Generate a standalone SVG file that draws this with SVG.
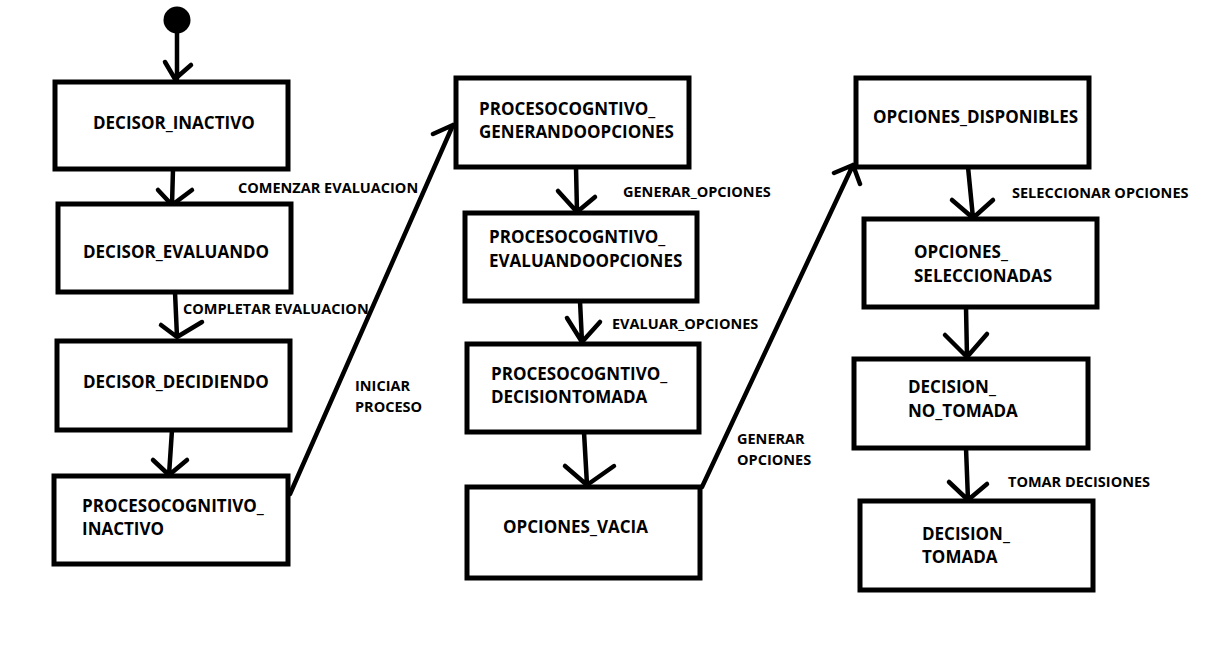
<svg xmlns="http://www.w3.org/2000/svg" width="1230" height="657" viewBox="0 0 1230 657">
<style>
.box{fill:#fff;stroke:#000;stroke-width:5}
.t{font-family:"Open Sans","Liberation Sans",sans-serif;font-weight:700;font-size:17px;fill:#000}
.l{font-family:"Open Sans","Liberation Sans",sans-serif;font-weight:700;font-size:14.5px;fill:#000}
.c{fill:none;stroke:#000;stroke-width:4.5;stroke-linecap:round;stroke-linejoin:round}
</style>
<rect width="1230" height="657" fill="#fff"/>
<circle id="start" cx="177" cy="20" r="13.5" fill="#000"/>
<g id="connectors">
<path class="c" d="M177,31 L177,79 M165,62 L175,79 L191,65"/>
<path class="c" d="M173,169 L172,205 M158,190 L172,205 L192,190"/>
<path class="c" d="M175,292 L177,337 M161,325 L177,337 L202,322"/>
<path class="c" d="M172,430 L169,475 M153,460 L169,475 L187,460"/>
<path class="c" d="M290,494 L453,125 M433,134 L453,125"/>
<path class="c" d="M576,167 L577,212 M558,191 L577,212 L595,197"/>
<path class="c" d="M580,301 L582,342 M567,318 L582,342 L600,322"/>
<path class="c" d="M584,432 L587,485 M565,466 L587,485 L614,466"/>
<path class="c" d="M702,487 L853,165 M834,173 L853,165 L860,184"/>
<path class="c" d="M968,167 L973,218 M952,200 L973,218 L993,200"/>
<path class="c" d="M966,307 L967,357 M945,335 L967,357 L987,334"/>
<path class="c" d="M966,448 L968,500 M949,482 L968,500 L987,484"/>
</g>
<g id="labels">
<text class="l" x="238" y="193">COMENZAR EVALUACION</text>
<text class="l" x="183" y="314">COMPLETAR EVALUACION</text>
<text class="l" x="355" y="391">INICIAR</text>
<text class="l" x="355" y="412">PROCESO</text>
<text class="l" x="623" y="197">GENERAR_OPCIONES</text>
<text class="l" x="612" y="329">EVALUAR_OPCIONES</text>
<text class="l" x="737" y="444">GENERAR</text>
<text class="l" x="737" y="465">OPCIONES</text>
<text class="l" x="1012" y="198">SELECCIONAR OPCIONES</text>
<text class="l" x="1008" y="487">TOMAR DECISIONES</text>
</g>
<g id="decisor_inactivo"><rect class="box" x="55" y="82" width="233" height="87"/><text class="t" x="93" y="129">DECISOR_INACTIVO</text></g>
<g id="decisor_evaluando"><rect class="box" x="58" y="204" width="233" height="88"/><text class="t" x="83" y="258">DECISOR_EVALUANDO</text></g>
<g id="decisor_decidiendo"><rect class="box" x="57" y="341" width="233" height="89"/><text class="t" x="83" y="388">DECISOR_DECIDIENDO</text></g>
<g id="procesocognitivo_inactivo"><rect class="box" x="54" y="476" width="234" height="88"/><text class="t" x="82" y="512">PROCESOCOGNITIVO_</text><text class="t" x="82" y="535">INACTIVO</text></g>
<g id="generandoopciones"><rect class="box" x="456" y="78" width="233" height="89"/><text class="t" x="479" y="115">PROCESOCOGNTIVO_</text><text class="t" x="479" y="138">GENERANDOOPCIONES</text></g>
<g id="evaluandoopciones"><rect class="box" x="465" y="213" width="232" height="88"/><text class="t" x="489" y="243">PROCESOCOGNTIVO_</text><text class="t" x="489" y="267">EVALUANDOOPCIONES</text></g>
<g id="decisiontomada"><rect class="box" x="467" y="344" width="232" height="88"/><text class="t" x="491" y="380">PROCESOCOGNTIVO_</text><text class="t" x="491" y="403">DECISIONTOMADA</text></g>
<g id="opciones_vacia"><rect class="box" x="467" y="487" width="233" height="91"/><text class="t" x="503" y="533">OPCIONES_VACIA</text></g>
<g id="opciones_disponibles"><rect class="box" x="856" y="78" width="233" height="89"/><text class="t" x="873" y="123">OPCIONES_DISPONIBLES</text></g>
<g id="opciones_seleccionadas"><rect class="box" x="864" y="219" width="233" height="88"/><text class="t" x="914" y="258">OPCIONES_</text><text class="t" x="914" y="282">SELECCIONADAS</text></g>
<g id="decision_no_tomada"><rect class="box" x="854" y="359" width="234" height="89"/><text class="t" x="908" y="393">DECISION_</text><text class="t" x="908" y="417">NO_TOMADA</text></g>
<g id="decision_tomada"><rect class="box" x="860" y="501" width="233" height="89"/><text class="t" x="922" y="540">DECISION_</text><text class="t" x="922" y="563">TOMADA</text></g>
</svg>
